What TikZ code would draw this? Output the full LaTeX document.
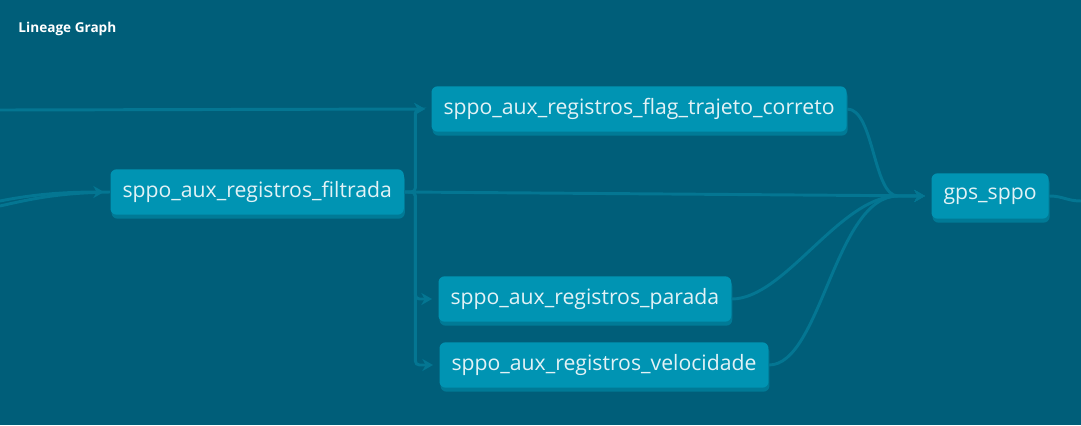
\documentclass[tikz,border=0pt]{standalone}
\usepackage{fontspec}
\setmainfont{Open Sans}
\usetikzlibrary{arrows.meta,shadows}

\definecolor{graphbg}{RGB}{0,94,121}
\definecolor{tblfill}{RGB}{0,148,179}
\definecolor{tblshade}{RGB}{0,122,150}
\definecolor{tbltext}{RGB}{226,242,246}
\definecolor{edgecol}{RGB}{4,118,146}

\tikzset{every picture/.style={line width=0.75pt}}
\tikzset{
  tbl/.style={anchor=west, fill=tblfill, text=tbltext, rounded corners=4.5pt,
    minimum height=34pt, inner xsep=9pt, inner ysep=0pt, font=\fontsize{15.9}{18}\selectfont,
    general shadow={fill=tblshade, shadow xshift=0.75pt, shadow yshift=-3pt}},
  edge/.style={draw=edgecol, line width=2.2pt},
  edgearr/.style={edge, -{Stealth[length=8pt,width=9pt,inset=2.5pt]}, shorten >=4.5pt}
}

\begin{document}
\begin{tikzpicture}[x=0.75pt,y=0.75pt,yscale=-1,xscale=1]
\fill [graphbg] (0,0) rectangle (1081,425);
\useasboundingbox (0,0) rectangle (1081,425);

% Title
\draw (18,29) node (title) [anchor=west, inner sep=0pt, text=white, font=\bfseries\fontsize{10.2}{12}\selectfont] {Lineage Graph};

% Model Nodes
\draw (110,192) node (filtrada) [tbl] {sppo\_aux\_registros\_filtrada};
\draw (431,109) node (flag) [tbl] {sppo\_aux\_registros\_flag\_trajeto\_correto};
\draw (438,299) node (parada) [tbl] {sppo\_aux\_registros\_parada};
\draw (439,365) node (velocidade) [tbl] {sppo\_aux\_registros\_velocidade};
\draw (931,196) node (gps) [tbl] {gps\_sppo};

% Free ends
\coordinate (srcA) at (0,201);
\coordinate (srcB) at (0,206);
\coordinate (srcC) at (0,110);
\coordinate (gpsin) at (898,196);
\coordinate (outA) at (1081,201);

% Edges from the left
\draw [edgearr] (srcC) -- (flag.west);
\draw [edge] (srcB) .. controls (35,198) and (60,193) .. (filtrada.west);
\draw [edgearr] (srcA) .. controls (30,195) and (60,192) .. (filtrada.west);

% Edges out of filtrada
\draw [edgearr, rounded corners=3pt] (filtrada.east) -- ++(11,0) |- (flag.west);
\draw [edgearr, rounded corners=3pt] (filtrada.east) -- ++(11,0) |- (parada.west);
\draw [edgearr, rounded corners=3pt] (filtrada.east) -- ++(11,0) |- (velocidade.west);
\draw [edgearr] (filtrada.east) -- (gps.west);

% Edges into gps_sppo
\draw [edgearr] (flag.east) .. controls +(27,0) and +(-25,0) .. (gpsin) -- (gps.west);
\draw [edgearr] (parada.east) .. controls +(53,0) and +(-58,0) .. (gpsin) -- (gps.west);
\draw [edgearr] (velocidade.east) .. controls +(52,0) and +(-63,0) .. (gpsin) -- (gps.west);

% Edge out of gps_sppo
\draw [edge] (gps.east) .. controls +(14,0) and +(-14,0) .. (outA);

\end{tikzpicture}
\end{document}
